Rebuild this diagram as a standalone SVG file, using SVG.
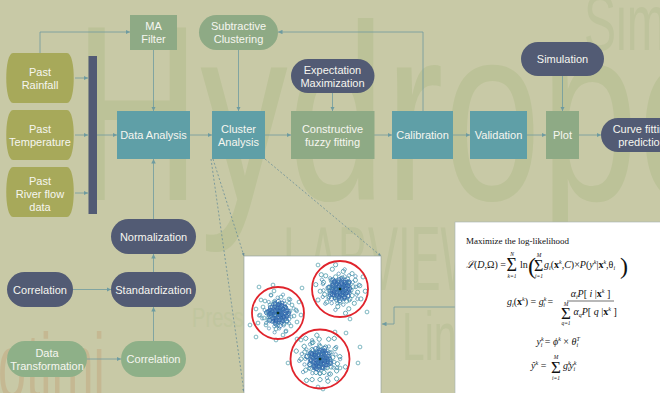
<svg xmlns="http://www.w3.org/2000/svg" xmlns:xlink="http://www.w3.org/1999/xlink" width="660" height="393" viewBox="0 0 660 393">
<style>
.wm{font-family:"Liberation Sans",Arial,sans-serif;fill:#bcc298}
.n text{font-family:"Liberation Sans",Arial,sans-serif;font-size:11px;fill:#f6f6f0;text-anchor:middle}
.olive{fill:#a7a95a}
.teal{fill:#5f9fa7}
.sage{fill:#8eaa85}
.dark{fill:#525b74}
.green{fill:#8eb088}
.c path{stroke:#6e9ba0;stroke-width:0.8;fill:none;marker-end:url(#ah)}
.c path.d{stroke:#6a8e98;stroke-dasharray:2 2;marker-end:url(#ahs)}
.fm{font-family:"Liberation Serif","DejaVu Serif",serif;font-size:10px;fill:#111}
.it{font-style:italic}
.bd{font-weight:bold}
.sp,.sb{font-size:6px;font-style:italic}
.lim{font-family:"Liberation Serif","DejaVu Serif",serif;font-size:5.5px;font-style:italic;fill:#111;text-anchor:middle}
</style>
<defs>
<marker id="ah" viewBox="0 0 6 6" refX="6" refY="3" markerWidth="4.5" markerHeight="4.5" markerUnits="userSpaceOnUse" orient="auto"><path d="M0,0 L6,3 L0,6 z" fill="#6e9ba0"/></marker>
<marker id="ahs" viewBox="0 0 6 6" refX="6" refY="3" markerWidth="3" markerHeight="3" markerUnits="userSpaceOnUse" orient="auto"><path d="M0,0 L6,3 L0,6 z" fill="#6a8e98"/></marker>
<g id="po" fill="none" stroke-width="0.7">
<circle cx="0" cy="0" r="1.9"/><circle cx="3" cy="-2" r="1.9"/><circle cx="-4" cy="1" r="1.9"/><circle cx="6" cy="3" r="1.9"/><circle cx="-2" cy="-6" r="1.9"/><circle cx="1" cy="5" r="1.9"/><circle cx="-7" cy="-3" r="1.9"/><circle cx="8" cy="-5" r="1.9"/><circle cx="-5" cy="6" r="1.9"/><circle cx="4" cy="8" r="1.9"/><circle cx="-9" cy="2" r="1.9"/><circle cx="10" cy="1" r="1.9"/><circle cx="2" cy="-10" r="1.9"/><circle cx="-3" cy="10" r="1.9"/><circle cx="7" cy="-9" r="1.9"/><circle cx="-8" cy="-8" r="1.9"/><circle cx="11" cy="6" r="1.9"/><circle cx="-11" cy="-1" r="1.9"/><circle cx="5" cy="-4" r="1.9"/><circle cx="-1" cy="-3" r="1.9"/><circle cx="3" cy="3" r="1.9"/><circle cx="-6" cy="-1" r="1.9"/><circle cx="9" cy="9" r="1.9"/><circle cx="-10" cy="7" r="1.9"/><circle cx="0" cy="12" r="1.9"/><circle cx="12" cy="-2" r="1.9"/><circle cx="-4" cy="-11" r="1.9"/><circle cx="6" cy="11" r="1.9"/>
<circle cx="14" cy="-8" r="1.9"/><circle cx="-14" cy="5" r="1.9"/><circle cx="16" cy="3" r="1.9"/><circle cx="-15" cy="-6" r="1.9"/><circle cx="3" cy="-16" r="1.9"/><circle cx="-2" cy="16" r="1.9"/><circle cx="13" cy="13" r="1.9"/><circle cx="-12" cy="12" r="1.9"/><circle cx="11" cy="-14" r="1.9"/><circle cx="-13" cy="-12" r="1.9"/><circle cx="18" cy="-3" r="1.9"/><circle cx="-18" cy="2" r="1.9"/><circle cx="8" cy="18" r="1.9"/><circle cx="-7" cy="-18" r="1.9"/><circle cx="19" cy="9" r="1.9"/><circle cx="-17" cy="-13" r="1.9"/><circle cx="21" cy="-11" r="1.9"/><circle cx="-20" cy="10" r="1.9"/><circle cx="5" cy="22" r="1.9"/><circle cx="-4" cy="-22" r="1.9"/><circle cx="23" cy="2" r="1.9"/><circle cx="-22" cy="-4" r="1.9"/>
</g>
<g id="pi" fill="none" stroke-width="0.7">
<circle cx="0" cy="0" r="1.9"/><circle cx="2" cy="-3" r="1.9"/><circle cx="-3" cy="2" r="1.9"/><circle cx="4" cy="2" r="1.9"/><circle cx="-1" cy="-5" r="1.9"/><circle cx="1" cy="4" r="1.9"/><circle cx="-5" cy="-2" r="1.9"/><circle cx="5" cy="-4" r="1.9"/><circle cx="-4" cy="5" r="1.9"/><circle cx="3" cy="7" r="1.9"/><circle cx="-7" cy="1" r="1.9"/><circle cx="7" cy="1" r="1.9"/><circle cx="1" cy="-8" r="1.9"/><circle cx="-2" cy="8" r="1.9"/><circle cx="6" cy="-7" r="1.9"/><circle cx="-6" cy="-6" r="1.9"/><circle cx="8" cy="5" r="1.9"/><circle cx="-8" cy="-3" r="1.9"/><circle cx="3" cy="-1" r="1.9"/><circle cx="-2" cy="-1" r="1.9"/><circle cx="6" cy="4" r="1.9"/><circle cx="-5" cy="8" r="1.9"/><circle cx="9" cy="-2" r="1.9"/><circle cx="-3" cy="-9" r="1.9"/><circle cx="4" cy="-10" r="1.9"/>
</g>
</defs>

<rect width="660" height="393" fill="#c8c9a6"/>

<g id="watermark" class="wm">
<text transform="translate(74,200) scale(0.7,1)" font-size="250">Hydropo</text>
<text transform="translate(283,290) scale(0.5,1)" font-size="90" fill="#bec39c">LABVIEW</text>
<text transform="translate(402,360) scale(0.6,1)" font-size="68" fill="#bec39c">Lin</text>
<text transform="translate(584,50) scale(0.6,1)" font-size="80" fill="#bec39c">Simu</text>
<text transform="translate(192,327) scale(0.72,1)" font-size="28" fill="#c1c69f">Press</text>
<text transform="translate(-2,398) scale(0.55,1)" font-size="92" fill="#c5b892">otimi</text>
</g>

<g id="connectors" class="c">
<path d="M75,78 H88"/>
<path d="M75,135 H88"/>
<path d="M75,193 H88"/>
<path d="M97,135 H117"/>
<path d="M40,53 V32 H130"/>
<path d="M153.5,50 V111"/>
<path d="M153.5,219 V159"/>
<path d="M190,135 H212"/>
<path d="M238.5,50 V111"/>
<path d="M265,135 H291"/>
<path d="M332.5,93 V111"/>
<path d="M374,135 H392"/>
<path d="M423,111 V32 H278"/>
<path d="M453,135 H470"/>
<path d="M527,135 H546"/>
<path d="M562.5,76 V111"/>
<path d="M579,135 H601"/>
<path d="M153.5,272 V254"/>
<path d="M73,289.5 H111"/>
<path d="M87,359 H121"/>
<path d="M153.5,341 V307"/>
<path d="M455,307 H394 V324 H382"/>
<path class="d" d="M213,159 L244,256"/>
<path class="d" d="M211,159 L244,392"/>
<path class="d" d="M265,159 L381,256"/>
</g>

<g id="bar"><rect x="88.5" y="56" width="8.5" height="158" fill="#515a74"/></g>

<g id="past-rainfall" class="n"><path class="olive" d="M13,53 H67 C76,53 76,103 67,103 H13 C4,103 4,53 13,53 Z"/><text x="40" y="75.5">Past</text><text x="40" y="88.5">Rainfall</text></g>
<g id="past-temperature" class="n"><path class="olive" d="M13,110 H67 C76,110 76,160 67,160 H13 C4,160 4,110 13,110 Z"/><text x="40" y="132.5">Past</text><text x="40" y="145.5">Temperature</text></g>
<g id="past-river" class="n"><path class="olive" d="M13,167 H67 C76,167 76,217 67,217 H13 C4,217 4,167 13,167 Z"/><text x="40" y="185">Past</text><text x="40" y="198">River flow</text><text x="40" y="211">data</text></g>

<g id="ma-filter" class="n"><rect class="sage" x="130" y="15" width="47" height="35"/><text x="153.5" y="30">MA</text><text x="153.5" y="43">Filter</text></g>
<g id="subtractive" class="n"><rect class="sage" x="199" y="15" width="79" height="35" rx="17.5"/><text x="238.5" y="30">Subtractive</text><text x="238.5" y="43">Clustering</text></g>
<g id="expectation" class="n"><rect class="dark" x="291" y="59" width="83.5" height="34" rx="17"/><text x="332.5" y="73.5">Expectation</text><text x="332.5" y="86.5">Maximization</text></g>
<g id="simulation" class="n"><rect class="dark" x="521" y="42" width="83" height="34" rx="17"/><text x="562.5" y="63">Simulation</text></g>

<g id="data-analysis" class="n"><rect class="teal" x="117" y="111" width="73" height="48"/><text x="153.5" y="139">Data Analysis</text></g>
<g id="cluster-analysis" class="n"><rect class="teal" x="212" y="111" width="53" height="48"/><text x="238.5" y="132.5">Cluster</text><text x="238.5" y="145.5">Analysis</text></g>
<g id="constructive" class="n"><rect class="sage" x="291" y="111" width="83.5" height="48"/><text x="332.5" y="132.5">Constructive</text><text x="332.5" y="145.5">fuzzy fitting</text></g>
<g id="calibration" class="n"><rect class="teal" x="392" y="111" width="61" height="48"/><text x="422.5" y="139">Calibration</text></g>
<g id="validation" class="n"><rect class="teal" x="470" y="111" width="57" height="48"/><text x="498.5" y="139">Validation</text></g>
<g id="plot" class="n"><rect class="sage" x="546" y="111" width="33" height="48"/><text x="562.5" y="139">Plot</text></g>
<g id="curve-fitting" class="n"><rect class="dark" x="601" y="118" width="84" height="34" rx="17"/><text x="642" y="132.5">Curve fitting</text><text x="642" y="145.5">prediction</text></g>

<g id="normalization" class="n"><rect class="dark" x="111" y="219" width="85" height="35" rx="17.5"/><text x="153.5" y="240.5">Normalization</text></g>
<g id="standardization" class="n"><rect class="dark" x="111" y="272" width="85" height="35" rx="17.5"/><text x="153.5" y="293.5">Standardization</text></g>
<g id="correlation-left" class="n"><rect class="dark" x="7" y="272" width="66" height="35" rx="17.5"/><text x="40" y="293.5">Correlation</text></g>
<g id="data-transformation" class="n"><rect class="green" x="7" y="341" width="80" height="36" rx="18"/><text x="47" y="356.5">Data</text><text x="47" y="369.5">Transformation</text></g>
<g id="correlation-bottom" class="n"><rect class="green" x="121" y="341" width="65" height="36" rx="18"/><text x="153.5" y="363">Correlation</text></g>

<g id="scatter-plot">
<rect x="244" y="256" width="137" height="140" fill="#ffffff" stroke="#8c9c9c" stroke-width="0.6"/>
<g fill="none" stroke="#4a9aa8" stroke-width="0.7">
<circle cx="259" cy="287" r="1.9"/><circle cx="273" cy="285" r="1.9"/><circle cx="302" cy="288" r="1.9"/><circle cx="318" cy="265" r="1.9"/><circle cx="250" cy="325" r="1.9"/><circle cx="256" cy="337" r="1.9"/><circle cx="276" cy="340" r="1.9"/><circle cx="297" cy="339" r="1.9"/><circle cx="360" cy="347" r="1.9"/><circle cx="358" cy="363" r="1.9"/><circle cx="346" cy="333" r="1.9"/><circle cx="335" cy="332" r="1.9"/><circle cx="367" cy="312" r="1.9"/><circle cx="350" cy="319" r="1.9"/><circle cx="288" cy="363" r="1.9"/><circle cx="340" cy="368" r="1.9"/><circle cx="318" cy="387" r="1.9"/><circle cx="323" cy="389" r="1.9"/><circle cx="301" cy="340" r="1.9"/><circle cx="312" cy="343" r="1.9"/>
</g>
<g transform="translate(278,313)">
<use href="#po" stroke="#4596a6"/>
<use href="#po" stroke="#3f86ac" transform="rotate(95) scale(0.85)"/>
<use href="#pi" stroke="#2f63ad"/>
<use href="#pi" stroke="#2a5aa8" transform="rotate(70)"/>
<use href="#pi" stroke="#3d78b4" transform="rotate(150) scale(1.2)"/>
<circle r="1.3" fill="#0a3320"/>
<circle r="26" fill="none" stroke="#e0242c" stroke-width="1.8"/>
</g>
<g transform="translate(340,289)">
<use href="#po" stroke="#4596a6" transform="scale(1.1)"/>
<use href="#po" stroke="#3f86ac" transform="rotate(130) scale(0.9)"/>
<use href="#pi" stroke="#2f63ad" transform="rotate(30)"/>
<use href="#pi" stroke="#2a5aa8" transform="rotate(110)"/>
<use href="#pi" stroke="#3d78b4" transform="rotate(200) scale(1.2)"/>
<circle r="1.3" fill="#0a3320"/>
<circle r="28" fill="none" stroke="#e0242c" stroke-width="1.8"/>
</g>
<g transform="translate(320,359)">
<use href="#po" stroke="#4596a6" transform="rotate(45) scale(1.12)"/>
<use href="#po" stroke="#3f86ac" transform="rotate(170) scale(0.9)"/>
<use href="#pi" stroke="#2f63ad" transform="rotate(90)"/>
<use href="#pi" stroke="#2a5aa8" transform="rotate(180)"/>
<use href="#pi" stroke="#3d78b4" transform="rotate(260) scale(1.2)"/>
<circle r="1.3" fill="#0a3320"/>
<circle r="29.5" fill="none" stroke="#e0242c" stroke-width="1.8"/>
</g>
</g>

<g id="formula-box">
<rect x="455" y="222" width="210" height="175" fill="#ffffff" stroke="#a6b2b2" stroke-width="0.6"/>
<text class="fm" x="466" y="244" style="font-size:9px">Maximize the log-likelihood</text>
<text class="fm" x="466" y="268"><tspan class="it">ℒ</tspan>(<tspan class="it">D</tspan>,Ω) =</text>
<text class="fm" x="506.5" y="271" style="font-size:18px">Σ</text>
<text class="lim" x="512" y="256">N</text>
<text class="lim" x="512" y="277.5">k=1</text>
<text class="fm" x="520" y="268">ln</text>
<text class="fm" x="528" y="274" style="font-size:24px">(</text>
<text class="fm" x="534" y="271" style="font-size:16px">Σ</text>
<text class="lim" x="539" y="257">M</text>
<text class="lim" x="539" y="277.5">i=1</text>
<text class="fm" x="544" y="268"><tspan class="it">g</tspan><tspan class="sb" dy="2">i</tspan><tspan dy="-2">(</tspan><tspan class="bd">x</tspan><tspan class="sp" dy="-4">k</tspan><tspan dy="4">,</tspan><tspan class="it">C</tspan>)×<tspan class="it">P</tspan>(<tspan class="it">y</tspan><tspan class="sp" dy="-4">k</tspan><tspan dy="4">|</tspan><tspan class="bd">x</tspan><tspan class="sp" dy="-4">k</tspan><tspan dy="4">,θ</tspan><tspan class="sb" dy="2">i</tspan></text>
<text class="fm" x="620" y="274" style="font-size:24px">)</text>
<text class="fm" x="507" y="305"><tspan class="it">g</tspan><tspan class="sb" dy="2">i</tspan><tspan dy="-2">(</tspan><tspan class="bd">x</tspan><tspan class="sp" dy="-4">k</tspan><tspan dy="4">) = </tspan><tspan class="it">g</tspan><tspan class="sp" dy="-4">k</tspan><tspan class="sb" dx="-3" dy="6">i</tspan><tspan dy="-2"> =</tspan></text>
<line x1="567" y1="301" x2="614" y2="301" stroke="#111" stroke-width="0.6"/>
<text class="fm" x="590.5" y="297" text-anchor="middle"><tspan class="it">α</tspan><tspan class="sb" dy="2">i</tspan><tspan class="it" dy="-2">P</tspan>[ <tspan class="it">i</tspan> |<tspan class="bd">x</tspan><tspan class="sp" dy="-4">k</tspan><tspan dy="4"> ]</tspan></text>
<text class="fm" x="561" y="319" style="font-size:17px">Σ</text>
<text class="lim" x="566" y="305.5">M</text>
<text class="lim" x="566" y="325">q=1</text>
<text class="fm" x="573.5" y="315"><tspan class="it">α</tspan><tspan class="sb" dy="2">q</tspan><tspan class="it" dy="-2">P</tspan>[ <tspan class="it">q</tspan> |<tspan class="bd">x</tspan><tspan class="sp" dy="-4">k</tspan><tspan dy="4"> ]</tspan></text>
<text class="fm" x="558" y="345" text-anchor="middle"><tspan class="it">y</tspan><tspan class="sp" dy="-4">k</tspan><tspan class="sb" dx="-3" dy="6">i</tspan><tspan dy="-2"> = </tspan><tspan class="it">ϕ</tspan><tspan class="sp" dy="-4">k</tspan><tspan dy="4"> × </tspan><tspan class="it">θ</tspan><tspan class="sp" dy="-4">T</tspan><tspan class="sb" dx="-3" dy="6">i</tspan></text>
<text class="fm" x="531" y="369"><tspan class="it">ŷ</tspan><tspan class="sp" dy="-4">k</tspan><tspan dy="4"> =</tspan></text>
<text class="fm" x="551" y="373" style="font-size:17px">Σ</text>
<text class="lim" x="556" y="359">M</text>
<text class="lim" x="556" y="379.5">i=1</text>
<text class="fm" x="563" y="369"><tspan class="it">g</tspan><tspan class="sp" dy="-4">k</tspan><tspan class="sb" dx="-3" dy="6">i</tspan><tspan class="it" dy="-2">y</tspan><tspan class="sp" dy="-4">k</tspan><tspan class="sb" dx="-3" dy="6">i</tspan></text>
</g>
</svg>
